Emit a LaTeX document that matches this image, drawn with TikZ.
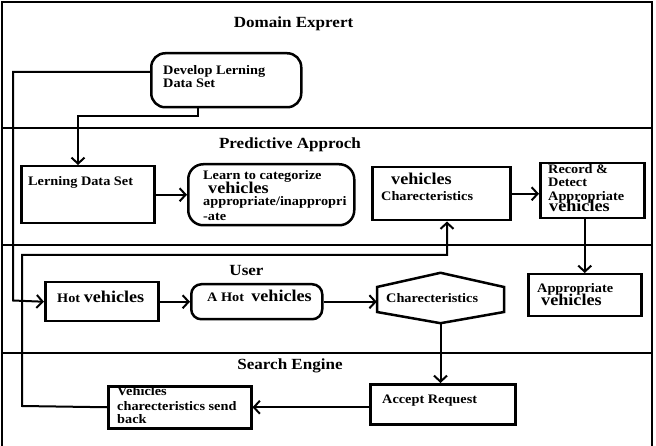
\documentclass[tikz,border=0pt]{standalone}
\usepackage{fontspec}
\setmainfont[FakeStretch=1.1]{Liberation Serif}
\usetikzlibrary{arrows.meta,calc}
\newcommand{\bigveh}[1]{{\fontsize{16.5}{18}\selectfont #1}}
\begin{document}
\begin{tikzpicture}[x=1pt,y=-1pt,
  lane/.style={line width=2.5pt},
  box/.style={draw,line width=2.5pt,inner sep=0pt,anchor=north west},
  rbox/.style={box,rounded corners=14pt},
  conn/.style={line width=2pt},
  arr/.style={conn,-{Straight Barb[length=6pt,width=13pt,line width=2pt]}},
  sm/.style={font=\fontsize{13}{14}\selectfont\bfseries,inner sep=0pt,anchor=base west},
  ttl/.style={font=\fontsize{15.5}{17}\selectfont\bfseries,inner sep=0pt,anchor=base},
]
\useasboundingbox (0,0) rectangle (656,446);
% frame and lanes
\draw[lane] (2,446) -- (2,2) -- (652,2) -- (652,446);
\draw[lane] (2,128) -- (652,128);
\draw[lane] (2,245) -- (652,245);
\draw[lane] (2,353) -- (652,353);
% titles
\node[ttl] (t1) at (293.5,28) {Domain Exprert};
\node[ttl] (t2) at (290,149) {Predictive Approch};
\node[ttl] (t3) at (246.5,276) {User};
\node[ttl] (t4) at (290,369) {Search Engine};
% boxes
\node[rbox,minimum width=150pt,minimum height=54pt] (dev) at (150,52) {};
\node[sm] (dev1) at (163,75) {Develop Lerning};
\node[sm] (dev2) at (163,88) {Data Set};

\node[box,minimum width=133pt,minimum height=57pt] (lds) at (20,165) {};
\node[sm] (lds1) at (28,186) {Lerning Data Set};

\node[rbox,rounded corners=15pt,minimum width=166pt,minimum height=61pt] (learn) at (187,163) {};
\node[sm] (le1) at (203,180) {Learn to categorize};
\node[sm] (le2) at (208,194) {\bigveh{vehicles}};
\node[sm] (le3) at (203,206) {appropriate/inappropri};
\node[sm] (le4) at (203,221) {-ate};

\node[box,minimum width=138pt,minimum height=53pt] (vc) at (371,166) {};
\node[sm] (vc1) at (391,185) {\bigveh{vehicles}};
\node[sm] (vc2) at (381,201) {Charecteristics};

\node[box,minimum width=104pt,minimum height=55pt] (rec) at (539,162) {};
\node[sm] (rec1) at (548,174) {Record \&};
\node[sm] (rec2) at (548,187) {Detect};
\node[sm] (rec3) at (548,201) {Appropriate};
\node[sm] (rec4) at (549,212) {\bigveh{vehicles}};

\node[box,minimum width=113pt,minimum height=42pt] (app) at (527,273) {};
\node[sm] (app1) at (537,293) {Appropriate};
\node[sm] (app2) at (541,306) {\bigveh{vehicles}};

\node[box,minimum width=113pt,minimum height=39pt] (hot) at (44,281) {};
\node[sm] (hot1) at (57,303) {Hot \bigveh{vehicles}};

\node[rbox,rounded corners=10pt,minimum width=131pt,minimum height=35pt] (ahot) at (190,283) {};
\node[sm] (ahot1) at (207,302) {A Hot \ \bigveh{vehicles}};

\node[inner sep=0pt,minimum width=127pt,minimum height=50pt] (hex) at (440.5,298) {};
\draw[line width=2.5pt] (hex.north) -- (504,287) -- (504,312) -- (hex.south) -- (377,312) -- (377,287) -- cycle;
\node[sm] (hex1) at (386,303) {Charecteristics};

\node[box,minimum width=145pt,minimum height=40pt] (acc) at (369,383) {};
\node[sm] (acc1) at (382,403) {Accept Request};

\node[box,minimum width=143pt,minimum height=42pt] (vs) at (107,385) {};
\node[sm] (vs1) at (117,395) {Vehicles};
\node[sm] (vs2) at (117,410) {charecteristics send};
\node[sm] (vs3) at (117,423) {back};

% connectors
\coordinate (y72) at (0,72);
\coordinate (x198) at (198,0);
\coordinate (x78) at (78,0);
\coordinate (x447) at (447,0);
\draw[arr] (dev.west |- y72) -- (13,72) -- (13,300.5) -- (hot.west);
\draw[arr] (dev.south -| x198) -- (198,116) -- (78,116) -- (lds.north -| x78);
\draw[arr] (lds.east) -- (learn.west);
\draw[arr] (vc.east) -- (vc.east -| rec.west);
\draw[arr] (rec.south -| app.north) -- (app.north);
\draw[arr] (hot.east) -- (ahot.west);
\draw[arr] (ahot.east) -- (ahot.east -| hex.west);
\draw[arr] (hex.south) -- (hex.south |- acc.north);
\draw[arr] (vs.east -| acc.west) -- (vs.east);
\draw[arr] (vs.west) -- (22,406) -- (22,255) -- (447,255) -- (vc.south -| x447);
\end{tikzpicture}
\end{document}
